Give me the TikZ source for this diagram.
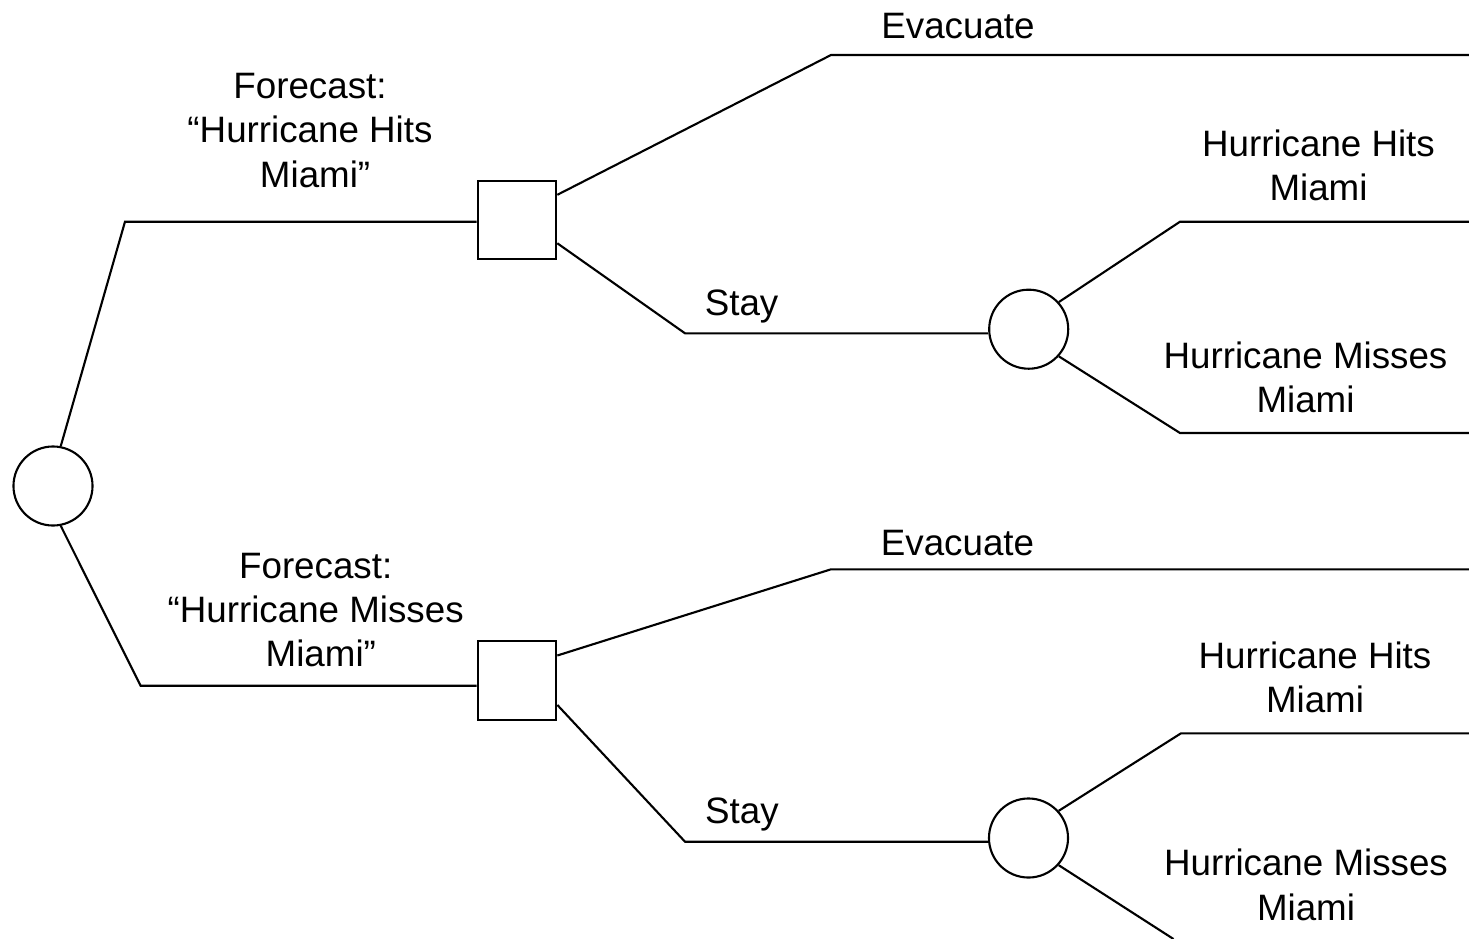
\documentclass[tikz,border=0pt]{standalone}
\usepackage{fontspec}
\setmainfont{Liberation Sans}
\begin{document}
\begin{tikzpicture}[x=0.01cm, y=-0.01cm, line width=0.6pt,
	chance/.style={circle, draw, minimum size=0.79cm, inner sep=0pt},
	choice/.style={rectangle, draw, minimum size=0.785cm, inner sep=0pt},
	lbl/.style={align=center, inner sep=0pt, font=\fontsize{10.45pt}{12.6pt}\selectfont}]
\useasboundingbox (0,0) rectangle (1469,939);

\node (root) at (53,486) [chance] {};

\coordinate (b1) at (125,221.7);
\node (d1) at (517,220) [choice] {};
\draw (root.79) -- (b1) -- (b1 -| d1.west);
\node (fc1) at (310,130.5) [lbl] {Forecast:\\“Hurricane Hits\\~Miami”};

	\coordinate (ev1) at (831,55);
	\coordinate (ev1e) at (1469,55);
	\draw (d1.32) -- (ev1) -- (ev1e);
	\node (evl1) at (958,38) [lbl, anchor=base] {Evacuate};

	\coordinate (st1) at (685,333.3);
	\node (c1) at (1028.7,329.2) [chance] {};
	\draw (d1.-30) -- (st1) -- (st1 -| c1.west);
	\node (stl1) at (741.6,315) [lbl, anchor=base] {Stay};

		\coordinate (h1) at (1180,221.7);
		\coordinate (h1e) at (1469,221.7);
		\draw (c1.42) -- (h1) -- (h1e);
		\node (hl1) at (1318.5,165.5) [lbl] {Hurricane Hits\\Miami};

		\coordinate (m1) at (1180,433);
		\coordinate (m1e) at (1469,433);
		\draw (c1.-42) -- (m1) -- (m1e);
		\node (ml1) at (1305.5,377.7) [lbl] {Hurricane Misses\\Miami};

\coordinate (b2) at (140.6,685.7);
\node (d2) at (517,680.7) [choice] {};
\draw (root.-79) -- (b2) -- (b2 -| d2.west);
\node (fc2) at (315.7,610) [lbl] {Forecast:\\“Hurricane Misses\\~Miami”};

	\coordinate (ev2) at (831,569.3);
	\coordinate (ev2e) at (1469,569.3);
	\draw (d2.32) -- (ev2) -- (ev2e);
	\node (evl2) at (957.5,555) [lbl, anchor=base] {Evacuate};

	\coordinate (st2) at (685,841.7);
	\node (c2) at (1028.5,838) [chance] {};
	\draw (d2.-31) -- (st2) -- (st2 -| c2.west);
	\node (stl2) at (742,823.3) [lbl, anchor=base] {Stay};

		\coordinate (h2) at (1181,733.3);
		\coordinate (h2e) at (1469,733.3);
		\draw (c2.42) -- (h2) -- (h2e);
		\node (hl2) at (1315,677.5) [lbl] {Hurricane Hits\\Miami};

		\coordinate (m2) at (1173.5,939);
		\draw (c2.-42) -- (m2);
		\node (ml2) at (1306,885) [lbl] {Hurricane Misses\\Miami};

\end{tikzpicture}
\end{document}
